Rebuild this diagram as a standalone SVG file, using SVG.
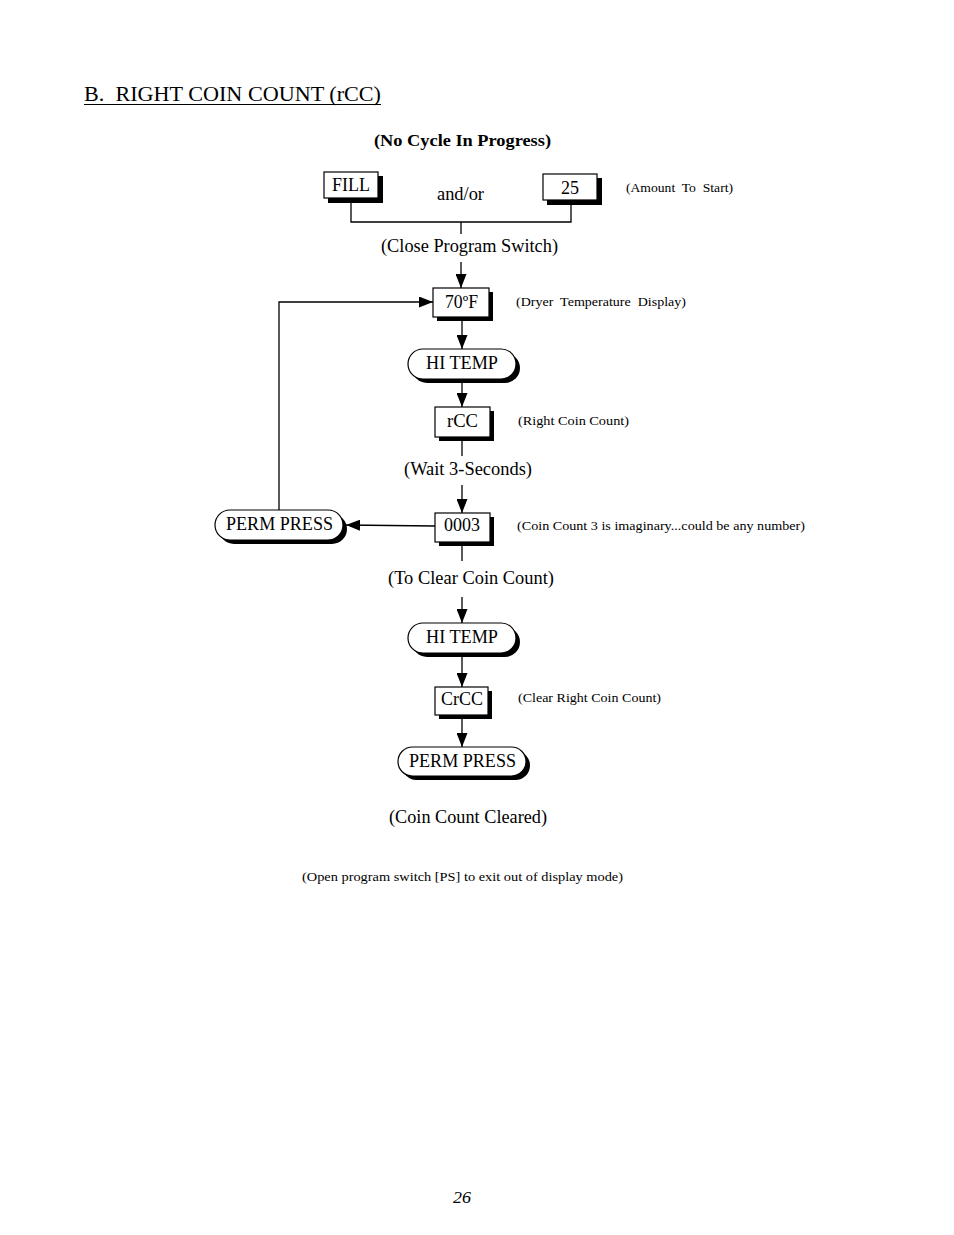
<svg xmlns="http://www.w3.org/2000/svg" width="954" height="1235" viewBox="0 0 954 1235">
<style>
text{font-family:"Liberation Serif","Times New Roman",serif;fill:#000}
.lbl{font-size:18px}
.note{font-size:12.5px}
.box{fill:#fff;stroke:#000;stroke-width:1.2}
.sh{fill:#000}
.ln{fill:none;stroke:#000;stroke-width:1.3}
</style>
<defs>
<marker id="ah" markerUnits="userSpaceOnUse" markerWidth="14" markerHeight="11" refX="14" refY="5.5" orient="auto">
<path d="M0,0 L14,5.5 L0,11 z" fill="#000"/>
</marker>
</defs>
<rect width="954" height="1235" fill="#fff"/>

<text x="84" y="101" font-size="22" textLength="297" lengthAdjust="spacingAndGlyphs" xml:space="preserve">B.  RIGHT COIN COUNT (rCC)</text>
<line x1="84" y1="104.5" x2="381" y2="104.5" stroke="#000" stroke-width="1.2"/>
<text x="374" y="146" font-size="16" font-weight="bold" textLength="177" lengthAdjust="spacingAndGlyphs">(No Cycle In Progress)</text>

<g id="connectors">
<polyline class="ln" points="351,203 351,222 571,222 571,205"/>
<line class="ln" x1="461" y1="222" x2="461" y2="234"/>
<line class="ln" x1="461" y1="262" x2="461" y2="288" marker-end="url(#ah)"/>
<polyline class="ln" points="279,510 279,302 433,302" marker-end="url(#ah)"/>
<line class="ln" x1="462" y1="321" x2="462" y2="349" marker-end="url(#ah)"/>
<line class="ln" x1="462" y1="383" x2="462" y2="407" marker-end="url(#ah)"/>
<line class="ln" x1="462" y1="441" x2="462" y2="456"/>
<line class="ln" x1="462" y1="485" x2="462" y2="513" marker-end="url(#ah)"/>
<line class="ln" x1="435" y1="526" x2="346" y2="525" marker-end="url(#ah)"/>
<line class="ln" x1="462" y1="546" x2="462" y2="561"/>
<line class="ln" x1="462" y1="597" x2="462" y2="623" marker-end="url(#ah)"/>
<line class="ln" x1="462" y1="657" x2="462" y2="687" marker-end="url(#ah)"/>
<line class="ln" x1="462" y1="719" x2="462" y2="747" marker-end="url(#ah)"/>
</g>

<g id="fill">
<rect class="sh" x="328" y="176" width="55" height="27"/>
<rect class="box" x="324" y="172" width="54" height="26"/>
<text class="lbl" x="332" y="191" textLength="38" lengthAdjust="spacingAndGlyphs">FILL</text>
</g>
<text class="lbl" x="437" y="200" textLength="47" lengthAdjust="spacingAndGlyphs">and/or</text>
<g id="n25">
<rect class="sh" x="547" y="178" width="55" height="27"/>
<rect class="box" x="543" y="174" width="54" height="26"/>
<text class="lbl" x="561" y="194">25</text>
</g>
<text class="note" x="626" y="192" textLength="107" lengthAdjust="spacingAndGlyphs" xml:space="preserve">(Amount  To  Start)</text>
<text class="lbl" x="381" y="252" textLength="177" lengthAdjust="spacingAndGlyphs">(Close Program Switch)</text>

<g id="temp">
<rect class="sh" x="437" y="292" width="56" height="29"/>
<rect class="box" x="433" y="288" width="56" height="29"/>
<text class="lbl" x="445" y="308" textLength="33" lengthAdjust="spacingAndGlyphs">70ºF</text>
</g>
<text class="note" x="516" y="306" textLength="170" lengthAdjust="spacingAndGlyphs" xml:space="preserve">(Dryer  Temperature  Display)</text>

<g id="hitemp1">
<rect class="sh" x="412" y="353" width="108" height="30" rx="15"/>
<rect class="box" x="408" y="349" width="108" height="30" rx="15"/>
<text class="lbl" x="426" y="369" textLength="72" lengthAdjust="spacingAndGlyphs">HI TEMP</text>
</g>

<g id="rcc">
<rect class="sh" x="439" y="411" width="55" height="30"/>
<rect class="box" x="435" y="407" width="55" height="30"/>
<text class="lbl" x="447" y="427" textLength="31" lengthAdjust="spacingAndGlyphs">rCC</text>
</g>
<text class="note" x="518" y="425" textLength="111" lengthAdjust="spacingAndGlyphs">(Right Coin Count)</text>
<text class="lbl" x="404" y="475" textLength="128" lengthAdjust="spacingAndGlyphs">(Wait 3-Seconds)</text>

<g id="count">
<rect class="sh" x="439" y="517" width="55" height="29"/>
<rect class="box" x="435" y="513" width="55" height="29"/>
<text class="lbl" x="444" y="531" textLength="36" lengthAdjust="spacingAndGlyphs">0003</text>
</g>
<text class="note" x="517" y="530" textLength="288" lengthAdjust="spacingAndGlyphs">(Coin Count 3 is imaginary...could be any number)</text>

<g id="permpress1">
<rect class="sh" x="219" y="514" width="128" height="30" rx="15"/>
<rect class="box" x="215" y="510" width="128" height="30" rx="15"/>
<text class="lbl" x="226" y="530" textLength="107" lengthAdjust="spacingAndGlyphs">PERM PRESS</text>
</g>

<text class="lbl" x="388" y="584" textLength="166" lengthAdjust="spacingAndGlyphs">(To Clear Coin Count)</text>

<g id="hitemp2">
<rect class="sh" x="412" y="627" width="108" height="30" rx="15"/>
<rect class="box" x="408" y="623" width="108" height="30" rx="15"/>
<text class="lbl" x="426" y="643" textLength="72" lengthAdjust="spacingAndGlyphs">HI TEMP</text>
</g>

<g id="crcc">
<rect class="sh" x="439" y="691" width="53" height="28"/>
<rect class="box" x="435" y="687" width="53" height="28"/>
<text class="lbl" x="441" y="705" textLength="42" lengthAdjust="spacingAndGlyphs">CrCC</text>
</g>
<text class="note" x="518" y="702" textLength="143" lengthAdjust="spacingAndGlyphs">(Clear Right Coin Count)</text>

<g id="permpress2">
<rect class="sh" x="402" y="751" width="128" height="29" rx="14.5"/>
<rect class="box" x="398" y="747" width="128" height="29" rx="14.5"/>
<text class="lbl" x="409" y="767" textLength="107" lengthAdjust="spacingAndGlyphs">PERM PRESS</text>
</g>

<text class="lbl" x="389" y="823" textLength="158" lengthAdjust="spacingAndGlyphs">(Coin Count Cleared)</text>
<text class="note" x="302" y="881" textLength="321" lengthAdjust="spacingAndGlyphs">(Open program switch [PS] to exit out of display mode)</text>
<text x="453" y="1203" font-size="17" font-style="italic" textLength="18" lengthAdjust="spacingAndGlyphs">26</text>
</svg>
